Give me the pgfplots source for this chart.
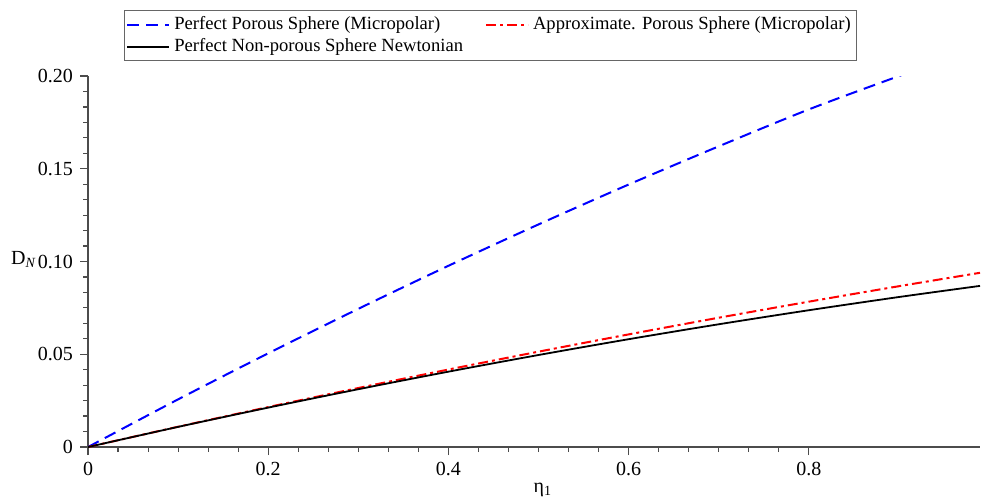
\documentclass[border=0pt]{standalone}
\usepackage{fontspec}
\setmainfont{Liberation Serif}
\usepackage{pgfplots}
\pgfplotsset{compat=1.18}
\begin{document}
\begin{tikzpicture}
\begin{axis}[
  scale only axis, width=446pt, height=185.5pt,
  xmin=0, xmax=0.99, ymin=0, ymax=0.2,
  axis lines*=left,
  axis line style={line width=0.7pt, black!70},
  xtick={0,0.2,0.4,0.6,0.8}, xticklabels={0,0.2,0.4,0.6,0.8},
  ytick={0,0.05,0.1,0.15,0.2}, yticklabels={0,0.05,0.10,0.15,0.20},
  minor x tick num=5, minor y tick num=5,
  tick align=outside,
  major tick length=4pt, minor tick length=2.5pt,
  tick style={black!70, line width=0.6pt},
  ticklabel style={font=\fontsize{10}{12}\selectfont},
  /pgf/number format/assume math mode=true,
  xlabel={η\textsubscript{1}},
  xlabel style={at={(axis description cs:0.51,-0.116)}, anchor=center, font=\fontsize{10}{12}\selectfont},
  ylabel={D\textsubscript{\textit{N}}},
  ylabel style={at={(axis description cs:-0.072,0.505)}, anchor=center, rotate=-90, font=\fontsize{10}{12}\selectfont},
  clip=true,
  legend columns=2,
  legend cell align=left,
  legend image code/.code={\draw[#1] (0pt,0pt) -- (21pt,0pt);},
  legend style={at={(axis description cs:0.040,1.178)}, anchor=north west,
    draw=black!60, line width=0.6pt, font=\fontsize{9.3}{11}\selectfont,
    inner sep=1pt, row sep=-1pt,
    /tikz/every even column/.append style={column sep=9pt}},
]
\addplot[blue, line width=1pt, dash pattern=on 6pt off 3.5pt, smooth] coordinates {
(0,0) (0.1,0.0257) (0.2,0.0505) (0.3,0.0745) (0.4,0.0977) (0.5,0.1200)
(0.6,0.1415) (0.7,0.1621) (0.8,0.1820) (0.9,0.2000) (0.91,0.2018)};
\addlegendentry{Perfect Porous Sphere (Micropolar)}
\addplot[red, line width=1pt, dash pattern=on 5pt off 2pt on 1.5pt off 2pt, smooth] coordinates {
(0,0) (0.1,0.01093) (0.2,0.02153) (0.3,0.03181) (0.4,0.04177) (0.5,0.0514)
(0.6,0.06071) (0.7,0.06970) (0.8,0.07835) (0.9,0.08669) (0.99,0.09392)};
\addlegendentry{Approximate. Porous Sphere (Micropolar)}
\addplot[black, line width=0.9pt, smooth] coordinates {
(0,0) (0.1,0.01086) (0.2,0.02124) (0.3,0.03116) (0.4,0.04062) (0.5,0.04960)
(0.6,0.05812) (0.7,0.06617) (0.8,0.07374) (0.9,0.08086) (0.99,0.08686)};
\addlegendentry{Perfect Non-porous Sphere Newtonian}
\coordinate (bl) at (axis description cs:-0.0987,-0.148);
\coordinate (tr) at (axis description cs:1.0022,1.2049);
\end{axis}
\pgfresetboundingbox
\path[use as bounding box] (bl) rectangle (tr);
\end{tikzpicture}
\end{document}
